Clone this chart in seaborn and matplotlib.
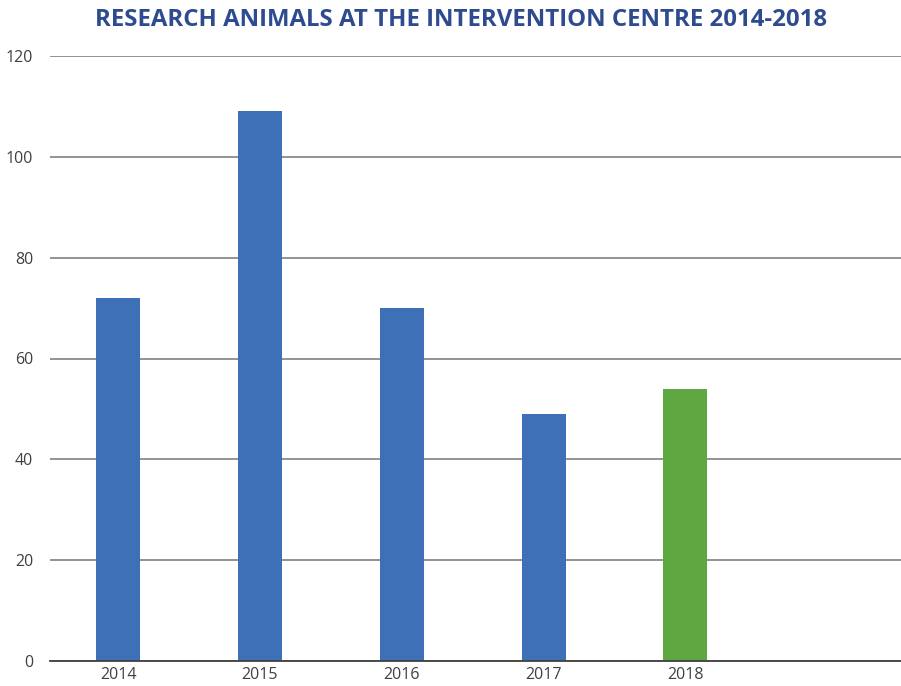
import matplotlib
matplotlib.use("Agg")
import matplotlib.pyplot as plt
import seaborn as sns
import pandas as pd

years = ["2014", "2015", "2016", "2017", "2018"]
animals = [72, 109, 70, 49, 54]
bar_colors = ["#3D70B6", "#3D70B6", "#3D70B6", "#3D70B6", "#5FA741"]
title = "RESEARCH ANIMALS AT THE INTERVENTION CENTRE 2014-2018"

sns.set_theme(style="white")
plt.rcParams["font.family"] = ["Open Sans", "DejaVu Sans"]

df = pd.DataFrame({"year": years, "animals": animals})

fig = plt.figure(figsize=(9.01, 6.86), dpi=100)
ax = fig.add_axes([50 / 901, 1 - 661 / 686, 851 / 901, 605 / 686])

sns.barplot(data=df, x="year", y="animals", hue="year", palette=bar_colors,
            width=0.31, saturation=1, legend=False, ax=ax, zorder=3,
            linewidth=0)

ax.set_xlim(-0.48, 5.52)
ax.set_ylim(0, 120)
ax.set_yticks(range(0, 121, 20))
ax.yaxis.grid(True, color="#8a8a8a", linewidth=1.3, zorder=0)
ax.set_axisbelow(True)
for s in ["top", "right", "left"]:
    ax.spines[s].set_visible(False)
ax.spines["bottom"].set_color("#404040")
ax.spines["bottom"].set_linewidth(1.3)
ax.spines["bottom"].set_zorder(4)
ax.set_xlabel("")
ax.set_ylabel("")
ax.tick_params(axis="both", length=0, labelsize=11.5, labelcolor="#404040")
ax.tick_params(axis="x", pad=4)
ax.tick_params(axis="y", pad=12)

fig.text(461 / 901, 1 - 20 / 686, title, ha="center", va="center",
         fontsize=17.3, fontweight="bold", color="#2F4B90")

fig.savefig("out.png", dpi=100)
